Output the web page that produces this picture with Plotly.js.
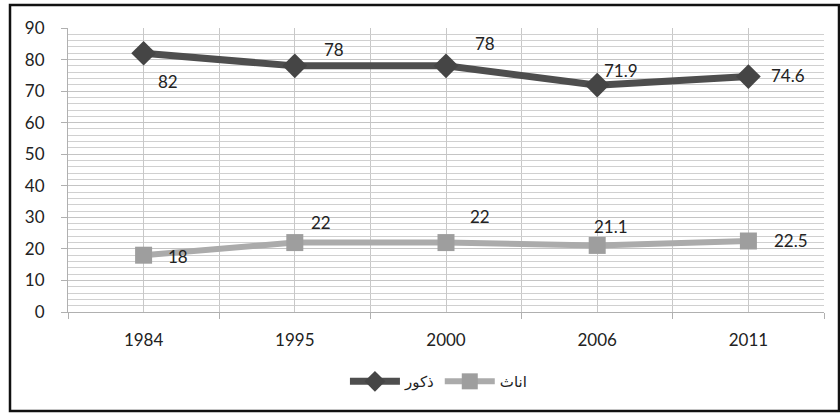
<!DOCTYPE html>
<html>
<head>
<meta charset="utf-8">
<script src="https://cdn.plot.ly/plotly-3.0.1.min.js"></script>
<style>html,body{margin:0;padding:0;background:#fff;}#chart{width:840px;height:414px;}</style>
</head>
<body>
<div id="chart"></div>
<script>
const years = ["1984", "1995", "2000", "2006", "2011"];
const maleName = "ذکور";
const femaleName = "اناث";
const maleValues = [82, 78, 78, 71.9, 74.6];
const femaleValues = [18, 22, 22, 21.1, 22.5];

const idx = years.map((_, i) => i);
const fontFam = "Lato, 'Open Sans', sans-serif";

const traces = [
  {
    x: idx, y: maleValues, name: maleName, type: "scatter", mode: "lines+markers",
    line: {color: "#4e4e4e", width: 7},
    marker: {symbol: "diamond", size: 19, color: "#454545"}
  },
  {
    x: idx, y: femaleValues, name: femaleName, type: "scatter", mode: "lines+markers",
    line: {color: "#ababab", width: 6},
    marker: {symbol: "square", size: 17, color: "#9e9e9e"}
  }
];

// label offsets in pixels (style only)
const maleOff = [[24, -28], [39, 16], [39, 22], [24, 15], [40, 1]];
const femaleOff = [[34, -1], [26, 20], [34, 26], [14, 19], [43, 1]];
const labelFont = {family: fontFam, size: 17, color: "#222"};
const annotations = [];
maleValues.forEach((v, i) => annotations.push({x: idx[i], y: v, text: String(v), showarrow: false,
  xshift: maleOff[i][0], yshift: maleOff[i][1], font: labelFont}));
femaleValues.forEach((v, i) => annotations.push({x: idx[i], y: v, text: String(v), showarrow: false,
  xshift: femaleOff[i][0], yshift: femaleOff[i][1], font: labelFont}));

const boundaries = [];
for (let i = 0; i <= years.length; i++) boundaries.push(i - 0.5);

const layout = {
  width: 840, height: 414,
  margin: {l: 68, r: 16, t: 28, b: 102},
  paper_bgcolor: "#fff", plot_bgcolor: "#fff",
  font: {family: fontFam, size: 17, color: "#222"},
  showlegend: true,
  legend: {orientation: "h", x: 0.49, xanchor: "center", y: -0.245, yanchor: "middle",
    font: {family: "'DejaVu Sans', sans-serif", size: 15, color: "#222"}, itemwidth: 50},
  xaxis: {
    range: [-0.5, 4.5], tickvals: idx, ticktext: years, ticks: "", showgrid: true,
    gridcolor: "#c8c8c8", gridwidth: 1, zeroline: false, showline: true, linecolor: "#b0b0b0", linewidth: 1,
    fixedrange: true, ticklabelstandoff: 13,
    minor: {tickvals: boundaries, ticks: "outside", ticklen: 6, tickcolor: "#b0b0b0", showgrid: true, gridcolor: "#c8c8c8", gridwidth: 1}
  },
  yaxis: {
    range: [0, 90], dtick: 10, ticks: "outside", ticklen: 6, tickcolor: "#b0b0b0",
    showgrid: true, gridcolor: "#c4c4c4", gridwidth: 1, zeroline: false,
    showline: true, linecolor: "#b0b0b0", linewidth: 1, fixedrange: true,
    ticksuffix: "\u00a0\u00a0\u00a0",
    minor: {dtick: 2, showgrid: true, gridcolor: "#d0d0d0", gridwidth: 1, ticks: ""}
  },
  annotations: annotations,
  shapes: [{type: "rect", xref: "paper", yref: "paper",
    x0: (10 - 68) / 756, x1: (839 - 68) / 756, y0: (312 - 411) / 284, y1: (312 - 5) / 284,
    line: {color: "#111", width: 2.5}, fillcolor: "rgba(0,0,0,0)", layer: "below"}]
};

Plotly.newPlot("chart", traces, layout, {displayModeBar: false, staticPlot: true});
</script>
</body>
</html>
